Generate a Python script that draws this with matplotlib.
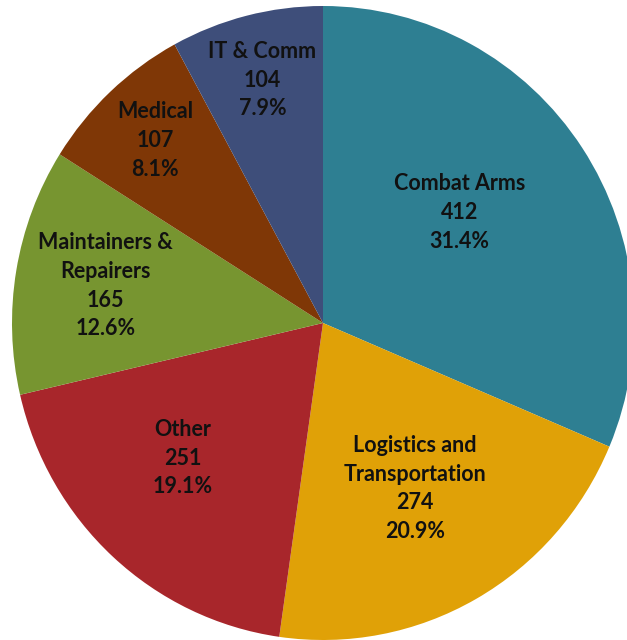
import numpy as np
import matplotlib
matplotlib.use('Agg')
import matplotlib.pyplot as plt

# data
categories = ['Combat Arms', 'Logistics and\nTransportation', 'Other',
              'Maintainers &\nRepairers', 'Medical', 'IT & Comm']
counts = [412, 274, 251, 165, 107, 104]
colors = ['#2E7F92', '#E0A107', '#A8262B', '#779530', '#7F3706', '#3E4E7A']

# label placement: distance from centre and angle nudge, per slice
label_r = [0.56, 0.60, 0.62, 0.71, 0.79, 0.79]
label_dang = [5, 0, -4, 0, 0, 0]

plt.rcParams['font.family'] = ['Lato', 'DejaVu Sans']

fig = plt.figure(figsize=(6.27, 6.40), dpi=100)
ax = fig.add_axes([0, 0, 1, 1])

wedges, _ = ax.pie(counts, colors=colors, startangle=90, counterclock=False,
                   wedgeprops=dict(linewidth=0))

# the original is a touch taller than wide
ax.set_aspect('auto')
ax.set_xlim(-323 / 311, (627 - 323) / 311)
ax.set_ylim(-317 / 317, 323 / 317)
ax.axis('off')

total = sum(counts)
for w, name, n, r, da in zip(wedges, categories, counts, label_r, label_dang):
    mid = np.deg2rad((w.theta1 + w.theta2) / 2 + da)
    x, y = r * np.cos(mid), r * np.sin(mid)
    pct = n / total * 100
    ax.text(x, y, f'{name}\n{n}\n{pct:.1f}%', ha='center', va='center',
            fontsize=15.5, fontweight='bold', color='#111111', linespacing=1.45)

fig.savefig('out.png', dpi=100, facecolor='white')
